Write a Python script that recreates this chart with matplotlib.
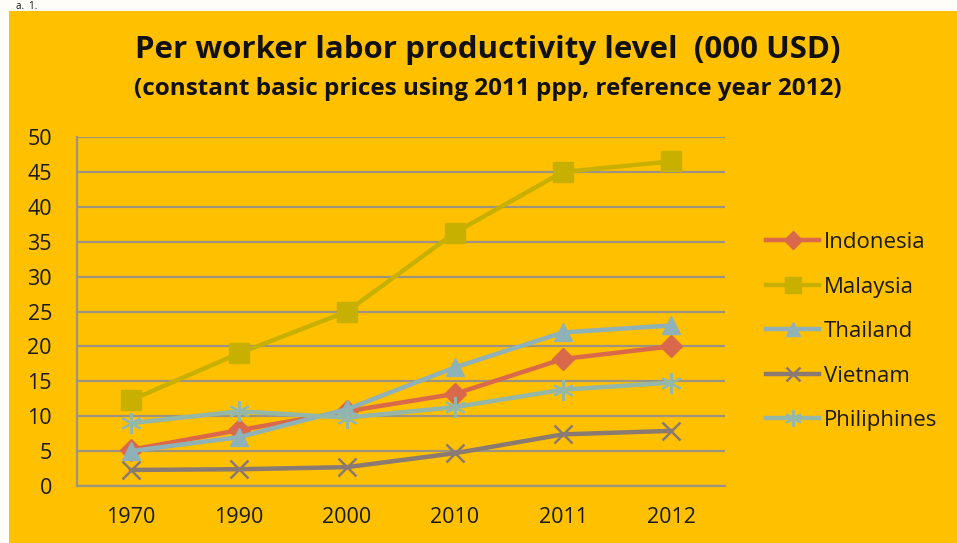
import matplotlib
matplotlib.use("Agg")
import matplotlib.pyplot as plt
from matplotlib.patches import Rectangle

years = ["1970", "1990", "2000", "2010", "2011", "2012"]
indonesia = [5.2, 8.0, 10.7, 13.2, 18.2, 20.0]
malaysia = [12.3, 19.0, 25.0, 36.3, 45.0, 46.5]
thailand = [5.0, 7.0, 11.0, 17.0, 22.0, 23.0]
vietnam = [2.3, 2.4, 2.7, 4.7, 7.4, 7.9]
philippines = [9.0, 10.7, 9.8, 11.3, 13.8, 14.8]
yticks = [0, 5, 10, 15, 20, 25, 30, 35, 40, 45, 50]

plt.rcParams['font.family'] = ['Open Sans', 'DejaVu Sans']

W, H = 957, 543
fig = plt.figure(figsize=(W / 100, H / 100), dpi=100)
fig.patch.set_facecolor("#FFFDF8")
bg = Rectangle((9 / W, 0), 1, 1 - 11 / H, transform=fig.transFigure,
               facecolor="#FFC000", edgecolor="none", zorder=-10)
fig.patches.append(bg)

ax = fig.add_axes([77 / W, (H - 486) / H, 648 / W, 349 / H])
ax.set_zorder(5)
ax.set_facecolor("none")

x = list(range(len(years)))
series = [
    ("Indonesia", indonesia, "#D9694A", "D", 11, dict()),
    ("Malaysia", malaysia, "#C8B000", "s", 14, dict()),
    ("Thailand", thailand, "#8FB1B8", "^", 13, dict()),
    ("Vietnam", vietnam, "#8A7A72", "x", 13, dict(markeredgewidth=1.8)),
    ("Philiphines", philippines, "#95B7A8", (6, 2, 0), 15, dict(markeredgewidth=1.5)),
]
for name, vals, col, mk, ms, kw in series:
    ax.plot(x, vals, color=col, lw=3.2, marker=mk, markersize=ms,
            markerfacecolor=col, markeredgecolor=col, label=name, zorder=3, **kw)

ax.set_xlim(-0.5, len(years) - 0.5)
ax.set_ylim(0, 50)
ax.set_yticks(yticks)
ax.set_xticks(x)
ax.set_xticklabels(years)
ax.grid(axis="y", color="#9C9480", lw=1.6)
ax.set_axisbelow(True)
for s in ["top", "right"]:
    ax.spines[s].set_visible(False)
for s in ["left", "bottom"]:
    ax.spines[s].set_color("#9C9480")
    ax.spines[s].set_linewidth(1.6)
ax.tick_params(axis="both", length=0, labelsize=15.5, colors="#1a1a1a")
ax.tick_params(axis="y", pad=18)
ax.tick_params(axis="x", pad=15)

fig.text(488 / W, 1 - 50 / H, "Per worker labor productivity level  (000 USD)",
         ha="center", va="center", fontsize=22.5, fontweight="bold", color="#111111")
fig.text(488 / W, 1 - 89 / H, "(constant basic prices using 2011 ppp, reference year 2012)",
         ha="center", va="center", fontsize=17.5, fontweight="bold", color="#111111")

leg = fig.legend(loc="upper left", bbox_to_anchor=(746 / W, 1 - 212 / H),
                 frameon=False, fontsize=16, handlelength=2.4, labelspacing=1.06,
                 handletextpad=0.2, markerscale=0.8)
for t in leg.get_texts():
    t.set_color("#1a1a1a")

fig.text(16 / W, 1 - 1 / H, "a.  1.", ha="left", va="top", fontsize=7, color="#111111")

fig.savefig("out.png", dpi=100, facecolor=fig.get_facecolor())
